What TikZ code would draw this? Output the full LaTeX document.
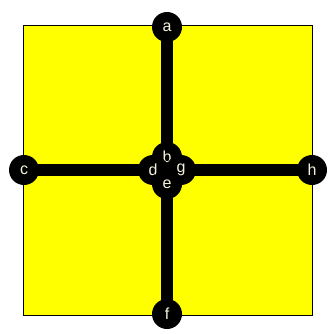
\documentclass[tikz,border=0pt]{standalone}
\usepackage{fontspec}
\setmainfont{Liberation Sans}
\usepackage{tikz}
\usetikzlibrary{backgrounds}
\definecolor{labcream}{RGB}{245,242,220}
\definecolor{fieldyellow}{RGB}{255,255,0}

\begin{document}
\begin{tikzpicture}[x=1pt,y=-1pt,
  vtx/.style={circle,fill=black,minimum size=30pt,inner sep=0pt,text=labcream,font=\fontsize{16}{16}\selectfont},
  edge/.style={line width=12pt}]
  \useasboundingbox (0,0) rectangle (328,334);
  % outer vertices
  \node[vtx] (a) at (167,27) {a};
  \node[vtx] (c) at (24,170) {c};
  \node[vtx] (h) at (312,170) {h};
  \node[vtx] (f) at (167,314) {f};
  % inner cluster
  \node[vtx] (b) at (167,157) {b};
  \node[vtx] (d) at (153,170) {d};
  \node[vtx] (g) at (181,170) {g};
  \node[vtx] (e) at (167,184) {e};
  \begin{scope}[on background layer]
    \draw[fill=fieldyellow] (23,25) rectangle (312,315);
    \draw[edge] (a.center) -- (f.center);
    \draw[edge] (c.center) -- (h.center);
  \end{scope}
\end{tikzpicture}
\end{document}
